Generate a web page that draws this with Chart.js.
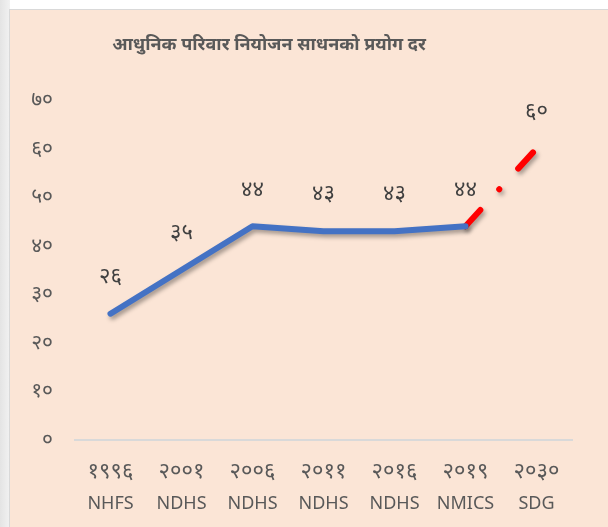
<!DOCTYPE html>
<html>
<head>
<meta charset="utf-8">
<script src="https://cdn.jsdelivr.net/npm/chart.js@4"></script>
<style>
  html, body { margin: 0; padding: 0; background: #fff; }
  body { width: 608px; height: 527px; position: relative; overflow: hidden; }
  .edge { position: absolute; left: 0; top: 0; width: 10px; height: 527px;
          background: linear-gradient(to right, #e4e4e4, #f2f2f2); }
  .wrap { position: absolute; left: 9px; top: 9px; width: 599px; height: 518px;
          background: #FBE5D6; border-left: 1px solid #d9d9d9; border-top: 1px solid #d9d9d9; box-sizing: border-box; }
  canvas { display: block; }
</style>
</head>
<body>
<div class="edge"></div>
<div class="wrap"><canvas id="c" width="598" height="517"></canvas></div>
<script>
const title = 'आधुनिक परिवार नियोजन साधनको प्रयोग दर';
const years = ['१९९६', '२००१', '२००६', '२०११', '२०१६', '२०१९', '२०३०'];
const surveys = ['NHFS', 'NDHS', 'NDHS', 'NDHS', 'NDHS', 'NMICS', 'SDG'];
const actual = [26, 35, 44, 43, 43, 44, null];
const target = [null, null, null, null, null, 44, 60];
const yTicks = [0, 10, 20, 30, 40, 50, 60, 70];

const devDigits = '०१२३४५६७८९';
const toDev = (n) => String(n).replace(/[0-9]/g, d => devDigits[d]);

const fontFamily = "'Noto Sans', 'DejaVu Sans', sans-serif";

// drop shadow under the lines
const shadowPlugin = {
    id: 'lineShadow',
    beforeDatasetsDraw(chart) {
        const ctx = chart.ctx;
        ctx.save();
        ctx.shadowColor = 'rgba(0,0,0,0.35)';
        ctx.shadowBlur = 4;
        ctx.shadowOffsetX = 2;
        ctx.shadowOffsetY = 3;
    },
    afterDatasetsDraw(chart) {
        chart.ctx.restore();
    }
};

// title (a bit left of centre, like the original) + value labels
const textPlugin = {
    id: 'texts',
    afterDraw(chart) {
        const ctx = chart.ctx;
        ctx.save();
        ctx.textAlign = 'center';
        ctx.textBaseline = 'middle';

        ctx.font = 'bold 18px ' + fontFamily;
        ctx.fillStyle = '#595959';
        ctx.fillText(title, 259, 35);

        ctx.font = '22px ' + fontFamily;
        ctx.fillStyle = '#404040';
        const m0 = chart.getDatasetMeta(0);
        const m1 = chart.getDatasetMeta(1);
        years.forEach((_, i) => {
            let v = actual[i], pt = m0.data[i];
            if (v === null) { v = target[i]; pt = m1.data[i]; }
            if (v === null || !pt) return;
            ctx.fillText(toDev(v), pt.x, pt.y - 37);
        });
        ctx.restore();
    }
};

new Chart(document.getElementById('c'), {
    type: 'line',
    data: {
        labels: years,
        datasets: [{
            data: actual,
            borderColor: '#4472C4',
            borderWidth: 6,
            borderCapStyle: 'round',
            borderJoinStyle: 'round',
            pointRadius: 0,
            tension: 0
        }, {
            data: target,
            borderColor: '#FF0000',
            borderWidth: 6,
            borderCapStyle: 'round',
            borderDash: [22, 28, 0.1, 28],
            pointRadius: 0,
            tension: 0
        }]
    },
    options: {
        responsive: false,
        animation: false,
        layout: { padding: { left: 0, right: 36, top: 90, bottom: 12 } },
        plugins: {
            legend: { display: false },
            tooltip: { enabled: false }
        },
        scales: {
            x: {
                offset: true,
                weight: 0,
                afterFit: (s) => { s.height = 46; },
                grid: { display: false, drawTicks: false },
                border: { display: true, color: '#D9D9D9', width: 2 },
                ticks: {
                    color: '#595959',
                    font: { family: fontFamily, size: 22 },
                    padding: 19,
                    maxRotation: 0
                }
            },
            x2: {
                type: 'category',
                position: 'bottom',
                labels: surveys,
                offset: true,
                weight: 1,
                afterFit: (s) => { s.height = 29; },
                grid: { display: false, drawTicks: false },
                border: { display: false },
                ticks: {
                    color: '#595959',
                    font: { family: fontFamily, size: 18 },
                    padding: 7,
                    maxRotation: 0,
                    autoSkip: false
                }
            },
            y: {
                min: 0,
                max: 70,
                afterFit: (s) => { s.width = 65; },
                afterBuildTicks: (s) => { s.ticks = yTicks.map(v => ({ value: v })); },
                grid: { display: false, drawTicks: false },
                border: { display: false },
                ticks: {
                    color: '#595959',
                    font: { family: fontFamily, size: 21 },
                    padding: 22,
                    callback: (v) => toDev(v)
                }
            }
        }
    },
    plugins: [shadowPlugin, textPlugin]
});
</script>
</body>
</html>
